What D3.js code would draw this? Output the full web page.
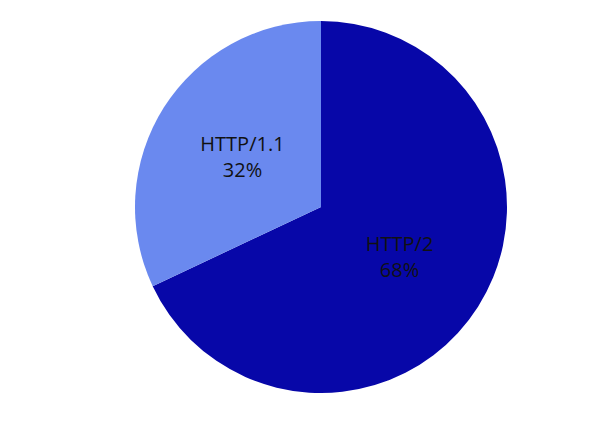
<!DOCTYPE html>
<html>
<head>
<meta charset="utf-8">
<script src="https://cdn.jsdelivr.net/npm/d3@7"></script>
<style>
	body { margin: 0; background: #fff; }
	svg { display: block; font-family: "Open Sans", "Noto Sans", sans-serif; }
</style>
</head>
<body>
<div id="chart"></div>
<script>
// Protocol share data
var labels = ['HTTP/2', 'HTTP/1.1'];
var values = [68, 32];
var colors = ['#0707a8', '#6a89ef'];

var width = 600;
var height = 428;
var center = { x: 321, y: 207 };
var radius = 186;

var svg = d3.select('#chart')
	.append('svg')
	.attr('width', width)
	.attr('height', height);

var g = svg.append('g')
	.attr('transform', 'translate(' + center.x + ',' + center.y + ')');

var data = labels.map(function(l, i) {
	return { label: l, value: values[i], color: colors[i] };
});

// Pie layout keeps the given order, first slice starts at 12 o'clock
var pie = d3.pie()
	.sort(null)
	.value(function(d) { return d.value; });

var arc = d3.arc()
	.innerRadius(0)
	.outerRadius(radius);

var labelArc = d3.arc()
	.innerRadius(radius * 0.5)
	.outerRadius(radius * 0.5);

var slices = g.selectAll('.slice')
	.data(pie(data))
	.enter()
	.append('g')
	.attr('class', 'slice');

slices.append('path')
	.attr('d', arc)
	.attr('fill', function(d) { return d.data.color; });

// Two-line labels: name and percentage
var text = slices.append('text')
	.attr('transform', function(d) { return 'translate(' + labelArc.centroid(d) + ')'; })
	.style('text-anchor', 'middle')
	.style('font-size', '20px')
	.attr('fill', '#111');

text.append('tspan')
	.attr('x', 0)
	.attr('y', -6)
	.text(function(d) { return d.data.label; });

text.append('tspan')
	.attr('x', 0)
	.attr('y', 20)
	.text(function(d) { return d.data.value + '%'; });
</script>
</body>
</html>
